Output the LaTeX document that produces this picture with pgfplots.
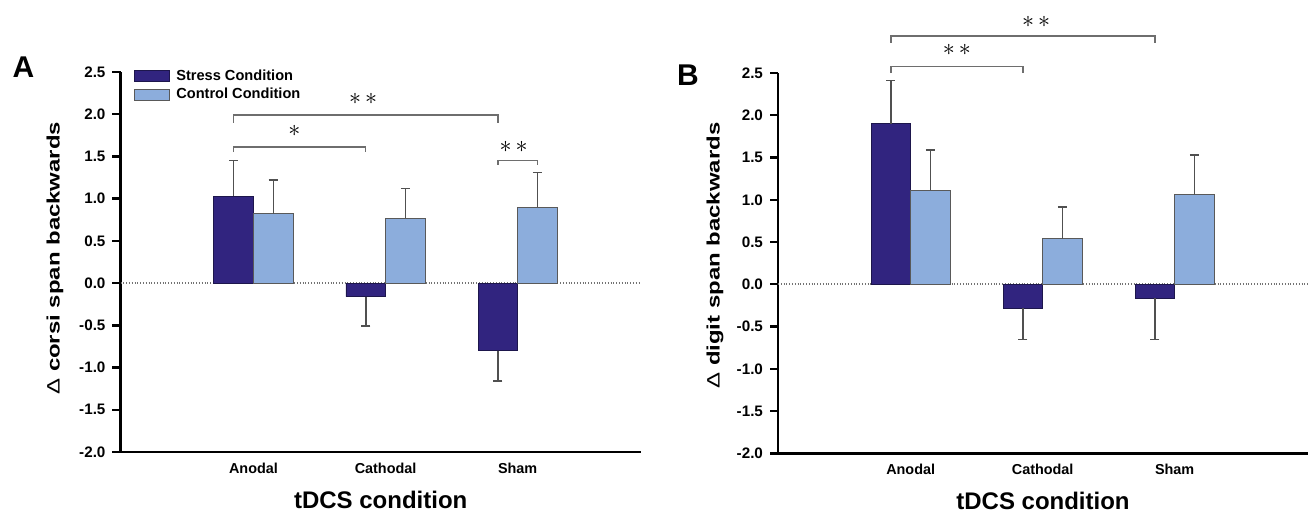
\documentclass[border=0pt]{standalone}
\usepackage{fontspec}
\setmainfont{Liberation Sans}
\usepackage{pgfplots}
\pgfplotsset{compat=1.18}
\definecolor{stress}{RGB}{49,36,127}
\definecolor{control}{RGB}{140,173,220}
\definecolor{errc}{RGB}{80,80,80}
\definecolor{brk}{RGB}{110,110,110}

\tikzset{ast/.style={font=\fontsize{12.5}{14}\selectfont}}
\pgfplotsset{
  myaxis/.style={
    scale only axis,
    axis x line*=bottom, axis y line*=left,
    axis line style={line width=1.3pt, black},
    ymin=-2, ymax=2.5, ytick distance=0.5,
    xtick={0,1,2}, xticklabels={Anodal,Cathodal,Sham},
    x tick style={draw=none},
    y tick style={line width=1.2pt, black},
    tick align=outside, major tick length=4pt,
    yticklabel style={font=\bfseries\fontsize{7.6}{9}\selectfont,
      /pgf/number format/.cd, fixed, fixed zerofill, precision=1, assume math mode=true},
    xticklabel style={font=\bfseries\fontsize{7.2}{8.6}\selectfont, yshift=2pt},
    ybar=0pt, bar width=0.3,
    clip=false,
    extra y ticks={0}, extra y tick labels={},
    extra y tick style={grid=major, major grid style={densely dotted, line width=0.8pt, black!55}, major tick length=0pt},
    xlabel={tDCS condition},
    xlabel style={font=\bfseries\fontsize{12}{14}\selectfont, at={(axis description cs:0.5,0)}, anchor=center, yshift=-24pt},
    ylabel style={font=\bfseries\fontsize{9}{11}\selectfont, anchor=center},
  },
  eb/.style={error bars/.cd, y dir=plus, y explicit,
    error bar style={errc, line width=0.75pt},
    error mark options={rotate=90, mark size=2.3pt, errc, line width=0.75pt}},
  sbar/.style={fill=stress, draw=stress!60!black, line width=0.4pt},
  cbar/.style={fill=control, draw=black!65, line width=0.4pt},
}

\begin{document}
\begin{tikzpicture}
\useasboundingbox (0,0) rectangle (656pt,257.5pt);

% Panel A
\begin{axis}[myaxis,
  at={(60.25pt,31.5pt)}, anchor=south west,
  width=260.25pt, height=190pt,
  xmin=-1.007, xmax=2.934,
  ylabel={\scalebox{1.33}[1]{{\mdseries Δ} corsi span backwards}},
  ylabel style={at={(axis description cs:-0.1258,0.51)}},
  legend style={at={(0,1)}, anchor=north west, xshift=7pt, yshift=2.5pt,
    draw=none, fill=none, inner sep=0pt, outer sep=0pt, row sep=0.35pt,
    /tikz/column sep=2.5pt,
    font=\bfseries\fontsize{7.3}{8.8}\selectfont,
    nodes={inner sep=1pt, text height=5.5pt, text depth=1.5pt}},
  legend cell align=left,
  legend image code/.code={\draw[#1] (0pt,-2.6pt) rectangle (17pt,2.6pt);},
]
\addplot[sbar, eb] coordinates {
  (0,1.03)  += (0,0.42)
  (1,-0.16) += (0,-0.35)
  (2,-0.80) += (0,-0.36)
};
\addplot[cbar, eb] coordinates {
  (0,0.82) += (0,0.40)
  (1,0.77) += (0,0.35)
  (2,0.90) += (0,0.41)
};
\legend{Stress Condition, Control Condition}
% significance brackets
\draw[brk, line width=0.7pt] (axis cs:-0.15,1.90) -- (axis cs:-0.15,1.99) -- (axis cs:1.85,1.99) -- (axis cs:1.85,1.90);
\node[ast] at (axis cs:0.83,2.18) {${\ast}\,{\ast}$};
\draw[brk, line width=0.7pt] (axis cs:-0.15,1.55) -- (axis cs:-0.15,1.61) -- (axis cs:0.85,1.61) -- (axis cs:0.85,1.55);
\node[ast] at (axis cs:0.31,1.80) {${\ast}$};
\draw[brk, line width=0.7pt] (axis cs:1.85,1.40) -- (axis cs:1.85,1.45) -- (axis cs:2.15,1.45) -- (axis cs:2.15,1.40);
\node[ast] at (axis cs:1.97,1.61) {${\ast}\,{\ast}$};
\end{axis}

% Panel B
\begin{axis}[myaxis,
  at={(389pt,30.85pt)}, anchor=south west,
  width=265pt, height=190.15pt,
  xmin=-1.005, xmax=3.01,
  ylabel={\scalebox{1.33}[1]{{\mdseries Δ} digit span backwards}},
  ylabel style={at={(axis description cs:-0.1189,0.52)}},
]
\addplot[sbar, eb] coordinates {
  (0,1.90)   += (0,0.51)
  (1,-0.285) += (0,-0.37)
  (2,-0.165) += (0,-0.49)
};
\addplot[cbar, eb] coordinates {
  (0,1.11) += (0,0.48)
  (1,0.54) += (0,0.375)
  (2,1.06) += (0,0.47)
};
\draw[brk, line width=0.7pt] (axis cs:-0.15,2.86) -- (axis cs:-0.15,2.94) -- (axis cs:1.85,2.94) -- (axis cs:1.85,2.86);
\node[ast] at (axis cs:0.95,3.11) {${\ast}\,{\ast}$};
\draw[brk, line width=0.7pt] (axis cs:-0.15,2.50) -- (axis cs:-0.15,2.58) -- (axis cs:0.85,2.58) -- (axis cs:0.85,2.50);
\node[ast] at (axis cs:0.35,2.77) {${\ast}\,{\ast}$};
\end{axis}

\node[font=\bfseries\fontsize{15}{17}\selectfont] at (11.7pt,223.75pt) {A};
\node[font=\bfseries\fontsize{15}{17}\selectfont] at (344pt,220pt) {B};
\end{tikzpicture}
\end{document}
